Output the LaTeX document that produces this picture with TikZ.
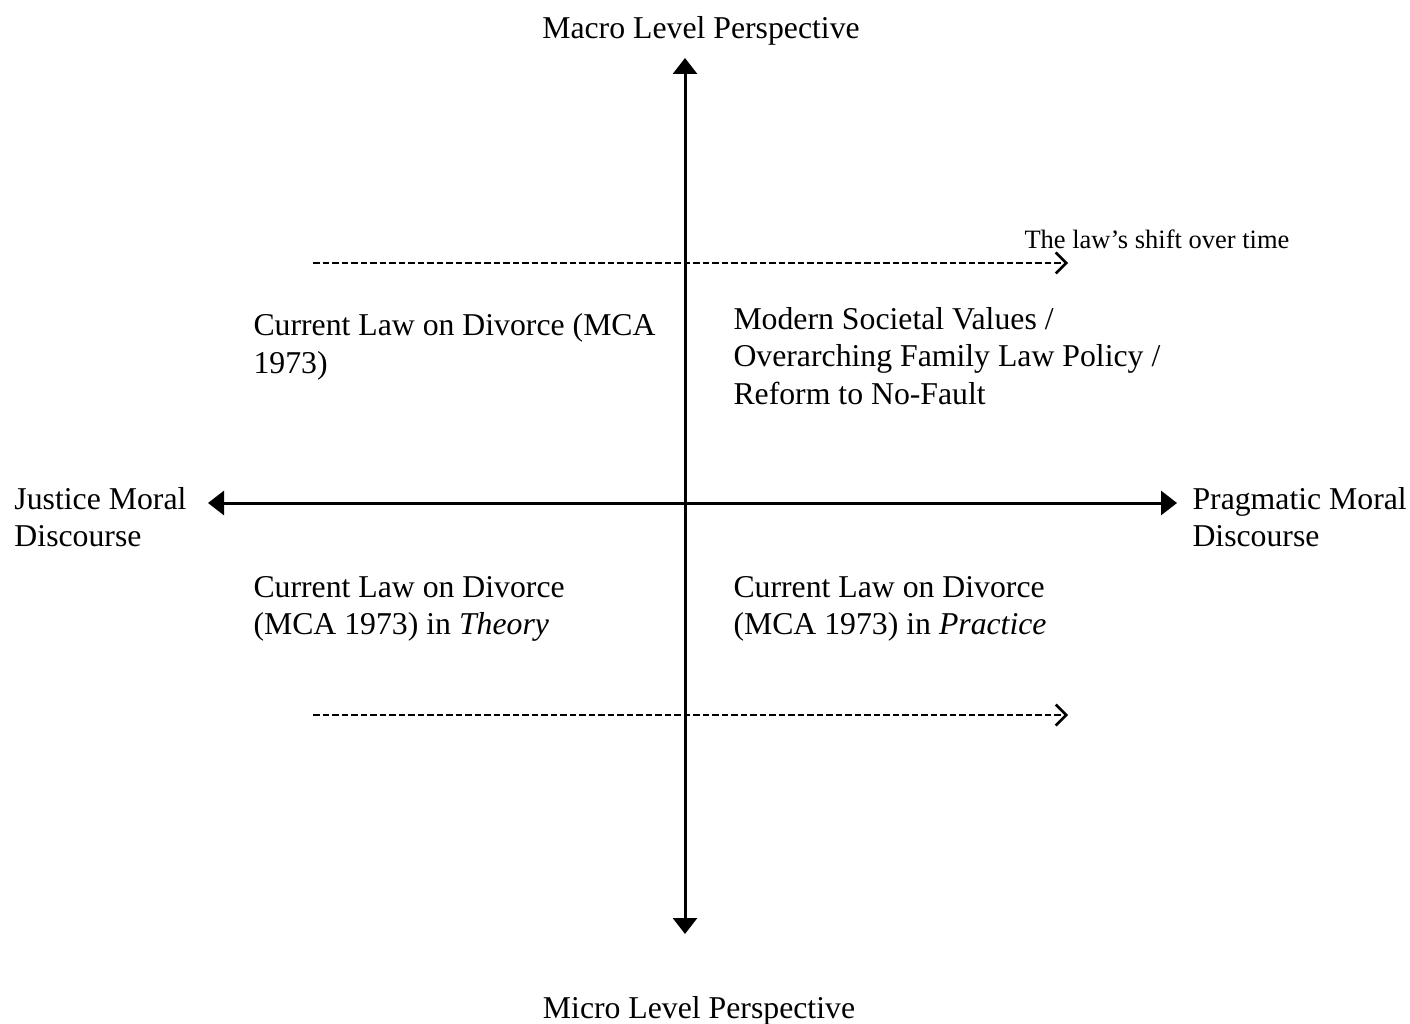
\documentclass[tikz,border=0pt]{standalone}
\usepackage{fontspec}
\setmainfont{Liberation Serif}
\usetikzlibrary{arrows.meta}

\begin{document}
\begin{tikzpicture}[
    x=0.4pt, y=-0.4pt,
    txt/.style={inner sep=0pt, align=left,
                font=\fontsize{12.7}{15}\selectfont},
    axisline/.style={line width=1.2pt,
                 {Triangle[length=6.4pt,width=9.6pt]}-{Triangle[length=6.4pt,width=9.6pt]}},
    timeshift/.style={line width=1pt, dash pattern=on 2.6pt off 1.2pt,
                  -{Straight Barb[length=4.2pt,width=8.4pt,line width=1pt]}},
]
\useasboundingbox (0,0) rectangle (1410,1024);

% axes ends
\coordinate (top) at (685,58);
\coordinate (bottom) at (685,934);
\coordinate (left) at (208,503);
\coordinate (right) at (1177,503);
\draw[axisline] (bottom) -- (top);
\draw[axisline] (left) -- (right);

% time shift
\coordinate (s1a) at (313,263);
\coordinate (s1b) at (1068,263);
\coordinate (s2a) at (313,715);
\coordinate (s2b) at (1068,715);
\draw[timeshift] (s1a) -- (s1b);
\draw[timeshift] (s2a) -- (s2b);
\node[inner sep=0pt, anchor=west, font=\fontsize{10.6}{13}\selectfont]
    (shiftlabel) at (1024,239) {The law’s shift over time};

% axis labels
\node[txt] (macro) at (701,31) {Macro Level Perspective};
\node[txt] (micro) at (699,1011) {Micro Level Perspective};
\node[txt, anchor=west] (justice) at (14,517) {Justice Moral\\Discourse};
\node[txt, anchor=west] (pragmatic) at (1192,517) {Pragmatic Moral\\Discourse};

% quadrants
\node[txt, anchor=west] (q1) at (253,347) {Current Law on Divorce (MCA\\1973)};
\node[txt, anchor=west] (q2) at (733,356)
    {Modern Societal Values /\\Overarching Family Law Policy /\\Reform to No-Fault};
\node[txt, anchor=west] (q3) at (253,609)
    {Current Law on Divorce\\(MCA 1973) in \textit{Theory}};
\node[txt, anchor=west] (q4) at (733,609)
    {Current Law on Divorce\\(MCA 1973) in \textit{Practice}};
\end{tikzpicture}
\end{document}
